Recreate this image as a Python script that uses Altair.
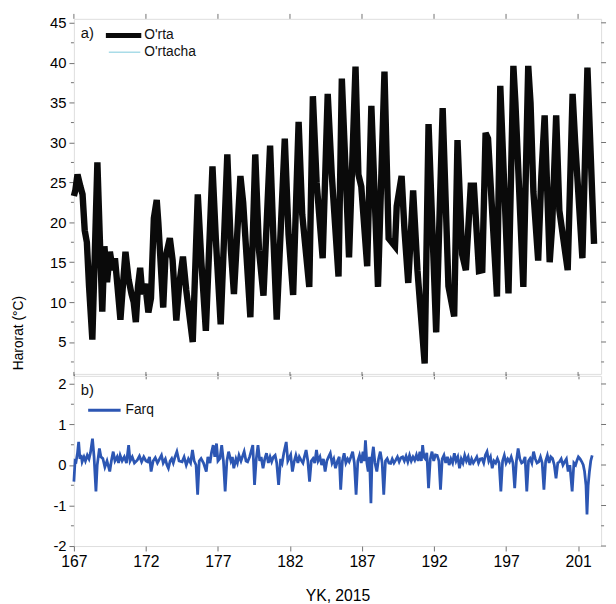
import altair as alt
import pandas as pd

FONT = "Liberation Sans"

# ---------------- data: panel a (temperature) ----------------
days_a = [167.0, 167.1, 167.25, 167.45, 167.6, 167.75, 167.9, 168.05, 168.28, 168.45,
          168.63, 168.8, 168.97, 169.12, 169.3, 169.5, 169.7, 169.85, 170.0, 170.23,
          170.4, 170.58, 170.8, 171.0, 171.15, 171.3, 171.45, 171.6, 171.75, 171.95,
          172.17, 172.35, 172.55, 172.75, 172.86, 173.2, 173.35, 173.66, 173.85, 174.11,
          174.3, 174.57, 174.8, 175.25, 175.6, 175.85, 176.16, 176.62, 176.85, 177.19,
          177.65, 177.9, 178.11, 178.56, 178.75, 179.25, 179.59, 179.85, 180.16, 180.62,
          180.85, 181.08, 181.64, 181.9, 182.22, 182.6, 182.85, 183.34, 183.59, 183.85,
          184.27, 184.62, 184.9, 185.37, 185.6, 185.85, 186.1, 186.55, 186.75, 186.95,
          187.36, 187.65, 188.11, 188.56, 188.85, 189.29, 189.41, 189.75, 189.95, 190.21,
          190.55, 190.85, 191.35, 191.62, 192.15, 192.6, 193.0, 193.4, 193.63, 193.95,
          194.21, 194.55, 194.77, 195.12, 195.35, 195.58, 195.75, 196.37, 196.6, 197.17,
          197.51, 197.65, 198.2, 198.54, 198.7, 198.9, 199.23, 199.45, 199.68, 200.03,
          200.2, 200.48, 200.7, 201.28, 201.62, 201.8, 202.3, 202.65, 203.11]
orta = [23.3, 24.0, 26.0, 24.5, 23.5, 19.0, 17.5, 12.0, 5.3, 16.0,
        27.5, 18.0, 8.8, 17.0, 12.5, 16.3, 14.0, 15.5, 12.5, 7.8,
        12.0, 16.3, 12.8, 11.0, 10.0, 7.5, 12.0, 14.3, 11.0, 12.3,
        8.7, 10.5, 20.5, 22.8, 20.0, 9.3, 15.5, 18.0, 15.3, 7.7,
        12.0, 15.7, 11.5, 5.0, 23.5, 15.0, 6.4, 27.0, 18.0, 7.2,
        28.5, 16.5, 11.0, 25.8, 22.5, 8.1, 28.5, 16.5, 10.8, 29.6,
        18.0, 7.8, 30.5, 18.5, 10.9, 32.6, 21.0, 11.9, 35.8, 25.0,
        15.5, 36.1, 26.0, 13.2, 38.0, 27.0, 15.6, 39.5, 26.0, 24.5,
        14.5, 34.6, 11.9, 38.9, 18.0, 17.0, 22.0, 25.8, 19.0, 12.4,
        24.0, 14.0, 2.3, 32.3, 6.2, 34.3, 12.0, 8.2, 30.3, 16.0,
        14.0, 24.6, 24.6, 13.9, 14.0, 31.2, 30.5, 10.7, 37.1, 11.1,
        39.6, 35.0, 11.9, 39.6, 35.0, 23.8, 15.2, 25.8, 33.4, 15.0,
        19.5, 33.4, 21.5, 14.0, 36.1, 30.0, 15.5, 39.4, 17.3]
# the thin "O'rtacha" curve lies completely under the thick "O'rta" curve
ortacha = list(orta)

# ---------------- data: panel b (difference) ----------------
days_b = [167.0, 167.08, 167.15, 167.25, 167.33, 167.42, 167.5, 167.57, 167.7, 167.8,
          167.93, 168.05, 168.15, 168.29, 168.4, 168.53, 168.62, 168.77, 168.88, 169.01,
          169.15, 169.3, 169.49, 169.6, 169.73, 169.85, 170.0, 170.1, 170.21, 170.35,
          170.5, 170.65, 170.8, 170.9, 171.05, 171.2, 171.4, 171.55, 171.7, 171.85,
          172.0, 172.12, 172.25, 172.36, 172.5, 172.65, 172.8, 172.95, 173.08, 173.2,
          173.35, 173.46, 173.56, 173.68, 173.79, 173.9, 174.02, 174.15, 174.3, 174.51,
          174.65, 174.8, 174.95, 175.1, 175.23, 175.35, 175.48, 175.59, 175.7, 175.83,
          176.0, 176.19, 176.3, 176.45, 176.55, 176.67, 176.78, 176.9, 177.0, 177.14,
          177.26, 177.38, 177.5, 177.62, 177.74, 177.9, 178.0, 178.1, 178.25, 178.35,
          178.46, 178.6, 178.82, 178.95, 179.06, 179.2, 179.42, 179.54, 179.66, 179.78,
          179.9, 180.0, 180.13, 180.25, 180.37, 180.5, 180.62, 180.73, 180.85, 180.97,
          181.08, 181.21, 181.35, 181.46, 181.57, 181.74, 181.85, 181.93, 182.05, 182.17,
          182.3, 182.41, 182.55, 182.65, 182.77, 182.9, 183.0, 183.12, 183.24, 183.36,
          183.48, 183.6, 183.72, 183.84, 183.95, 184.08, 184.2, 184.32, 184.44, 184.56,
          184.68, 184.8, 184.92, 185.04, 185.16, 185.3, 185.42, 185.52, 185.64, 185.76,
          185.88, 186.0, 186.11, 186.23, 186.35, 186.47, 186.59, 186.71, 186.83, 186.95,
          187.07, 187.16, 187.24, 187.34, 187.43, 187.52, 187.62, 187.7, 187.79, 187.9,
          188.03, 188.15, 188.27, 188.4, 188.51, 188.63, 188.75, 188.87, 188.99, 189.1,
          189.22, 189.34, 189.46, 189.58, 189.7, 189.82, 189.94, 190.06, 190.18, 190.3,
          190.42, 190.54, 190.66, 190.78, 190.9, 191.02, 191.12, 191.21, 191.3, 191.38,
          191.5, 191.62, 191.74, 191.86, 191.98, 192.1, 192.22, 192.34, 192.45, 192.57,
          192.69, 192.81, 192.93, 193.05, 193.17, 193.29, 193.41, 193.53, 193.65, 193.77,
          193.89, 194.01, 194.13, 194.25, 194.37, 194.49, 194.61, 194.73, 194.85, 194.97,
          195.09, 195.21, 195.33, 195.45, 195.57, 195.68, 195.8, 195.92, 196.04, 196.16,
          196.28, 196.4, 196.52, 196.64, 196.76, 196.88, 197.0, 197.12, 197.24, 197.36,
          197.48, 197.6, 197.72, 197.84, 197.96, 198.08, 198.2, 198.32, 198.44, 198.56,
          198.67, 198.79, 198.91, 199.03, 199.15, 199.27, 199.39, 199.51, 199.63, 199.75,
          199.87, 199.99, 200.11, 200.23, 200.35, 200.47, 200.59, 200.71, 200.83, 200.95,
          201.07, 201.19, 201.31, 201.43, 201.59, 201.71, 201.83, 201.93, 202.02, 202.14,
          202.26, 202.36, 202.45, 202.55, 202.62, 202.7, 202.79, 202.88, 202.98]
farq = [-0.41, 0.1, 0.08, 0.3, 0.57, 0.15, 0.25, 0.08, 0.2, 0.1,
        0.24, 0.15, 0.3, 0.65, 0.2, -0.65, 0.0, 0.41, 0.2, 0.16,
        -0.05, 0.1, -0.16, 0.1, 0.33, 0.1, 0.2, 0.05, 0.24, 0.1,
        0.2, 0.05, 0.49, 0.1, 0.2, 0.05, 0.12, 0.22, 0.08, 0.2,
        0.1, 0.08, 0.2, -0.16, 0.1, 0.18, 0.05, 0.15, 0.24, 0.05,
        0.15, 0.0, -0.08, 0.1, 0.16, 0.05, 0.2, 0.33, 0.1, 0.08,
        0.2, 0.0, 0.15, 0.05, 0.37, 0.1, 0.0, -0.73, 0.1, 0.16,
        0.05, -0.16, 0.2, 0.05, 0.3, 0.49, 0.2, 0.53, 0.1, 0.16,
        0.49, 0.1, -0.65, 0.1, 0.33, 0.1, 0.2, -0.08, 0.15, 0.05,
        0.24, 0.1, 0.33, 0.1, 0.08, 0.2, 0.49, -0.49, 0.15, 0.49,
        0.1, 0.2, -0.08, 0.15, 0.29, 0.05, 0.2, 0.08, 0.2, 0.24,
        0.05, -0.49, 0.15, 0.05, 0.29, 0.57, 0.1, 0.16, 0.25, -0.16,
        0.1, 0.24, 0.05, 0.2, 0.12, 0.05, 0.2, 0.37, 0.1, -0.41,
        0.1, 0.16, 0.05, 0.37, 0.1, 0.2, 0.0, 0.15, -0.16, 0.1,
        0.2, 0.29, 0.05, 0.15, -0.08, 0.1, 0.2, -0.61, 0.1, 0.29,
        0.05, 0.15, 0.08, 0.2, 0.33, 0.05, -0.73, 0.1, 0.24, 0.05,
        0.33, 0.1, 0.61, 0.05, -0.16, 0.2, -0.94, 0.2, 0.45, 0.05,
        -0.16, 0.15, 0.33, 0.05, -0.73, 0.1, 0.16, 0.05, 0.04, 0.15,
        0.05, 0.12, 0.2, 0.08, 0.18, 0.2, 0.1, 0.22, 0.08, 0.24,
        0.1, 0.2, 0.12, 0.25, 0.1, 0.33, 0.1, 0.49, 0.2, 0.16,
        0.3, -0.57, 0.15, 0.33, 0.1, 0.25, 0.24, 0.1, -0.61, 0.15,
        0.24, 0.05, 0.2, 0.0, 0.15, 0.05, 0.29, 0.1, 0.2, -0.08,
        0.15, 0.05, 0.24, 0.1, 0.2, 0.0, 0.15, 0.05, 0.12, 0.2,
        0.05, 0.15, 0.16, 0.05, 0.25, 0.33, 0.1, 0.2, -0.08, 0.1,
        0.05, 0.16, 0.05, -0.65, 0.1, 0.24, 0.05, 0.15, 0.08, 0.2,
        0.05, -0.57, 0.1, 0.41, 0.15, 0.05, 0.08, 0.2, -0.65, 0.1,
        0.16, 0.05, 0.33, 0.15, 0.05, 0.08, 0.2, 0.05, -0.61, 0.1,
        0.24, 0.05, 0.2, 0.16, 0.0, -0.33, 0.05, 0.08, 0.15, 0.0,
        0.08, 0.15, -0.16, 0.0, -0.65, 0.05, 0.0, 0.12, 0.20, 0.15,
        0.08, 0.0, -0.16, -0.5, -1.22, -0.5, -0.16, 0.1, 0.24]

# ---------------- ticks / labels ----------------
x_ticks = [167, 172, 177, 182, 187, 192, 197, 202]
x_tick_labels = ["167", "172", "177", "182", "187", "192", "197", "201"]
ya_major = [5, 10, 15, 20, 25, 30, 35, 40, 45]
ya_minor = [2.5, 7.5, 12.5, 17.5, 22.5, 27.5, 32.5, 37.5, 42.5]
yb_major = [-2, -1, 0, 1, 2]
yb_minor = [-1.5, -0.5, 0.5, 1.5]
legend_a = ["O'rta", "O'rtacha"]
legend_b = ["Farq"]
panel_tags = ["a)", "b)"]

W = 536
HA = 361
HB = 173
BLACK = "#0a0a0a"
LIGHT = "#a9dce8"
BLUE = "#2c56b3"
TICK = "#707070"
FRAME = "#8c8c8c"

xs = alt.Scale(domain=[167, 203.6], nice=False, zero=False)
ysa = alt.Scale(domain=[1, 45.5], nice=False, zero=False)
ysb = alt.Scale(domain=[-2, 2.2], nice=False, zero=False)

label_expr = ""
for v, l in zip(x_ticks, x_tick_labels):
    label_expr += f"datum.value == {v} ? '{l}' : "
label_expr += "datum.label"

# axes (the same object is given to every layer so they merge cleanly)
ax_xa = alt.Axis(values=x_ticks, labels=False, title=None, tickSize=5,
                 tickColor=TICK, domain=False, grid=False)
ax_ya = alt.Axis(values=ya_major, title="Harorat (°C)", tickSize=5,
                 tickColor=TICK, domain=False, grid=False,
                 labelFontSize=15, labelPadding=3,
                 titleFontSize=14, titleFontWeight="normal",
                 titleX=-56, titleY=319, titleAlign="center",
                 titleBaseline="middle", titleAngle=270)
ax_xb = alt.Axis(values=x_ticks, labelExpr=label_expr, title="YK, 2015",
                 tickSize=5, tickColor=TICK, domain=False, grid=False,
                 labelFontSize=16, labelPadding=3, labelFlush=False,
                 titleFontSize=16, titleFontWeight="normal", titlePadding=18)
ax_yb = alt.Axis(values=yb_major, labelExpr="'' + datum.value", title=None,
                 tickSize=5, tickColor=TICK, domain=False, grid=False,
                 labelFontSize=15, labelPadding=3)

series_a = ["O'rtacha"] * len(days_a) + ["O'rta"] * len(days_a)
df_a = pd.DataFrame({"day": days_a + days_a, "temp": ortacha + orta, "series": series_a})
df_b = pd.DataFrame({"day": days_b, "farq": farq})


def vticks(values, field, scale, axis, side, length):
    """short horizontal rules on the left/right frame at y values"""
    d = pd.DataFrame({field: values})
    x0 = 0 if side == "left" else W
    x1 = -length if side == "left" else W + length
    return alt.Chart(d).mark_rule(color=TICK, strokeWidth=1).encode(
        y=alt.Y(f"{field}:Q", scale=scale, axis=axis),
        x=alt.value(x0), x2=alt.value(x1))


def hticks(values, scale, axis, length):
    """short vertical rules on the top frame at x values"""
    d = pd.DataFrame({"day": values})
    return alt.Chart(d).mark_rule(color=TICK, strokeWidth=1).encode(
        x=alt.X("day:Q", scale=scale, axis=axis),
        y=alt.value(0), y2=alt.value(-length))


def txt(label, x, y, size=14):
    return alt.Chart(pd.DataFrame({"t": [label]})).mark_text(
        align="left", baseline="middle", font=FONT, fontSize=size, color="#111"
    ).encode(x=alt.value(x), y=alt.value(y), text="t:N")


def hline(color, width, x0, x1, y):
    return alt.Chart(pd.DataFrame({"k": [0]})).mark_rule(
        color=color, strokeWidth=width).encode(
        x=alt.value(x0), x2=alt.value(x1), y=alt.value(y))


# ---------- panel a ----------
base_a = alt.Chart(df_a)
a_thin = base_a.transform_filter(alt.datum.series == "O'rtacha").mark_line(
    color=LIGHT, strokeWidth=1.5).encode(
    x=alt.X("day:Q", scale=xs, axis=ax_xa),
    y=alt.Y("temp:Q", scale=ysa, axis=ax_ya))
a_thick = base_a.transform_filter(alt.datum.series == "O'rta").mark_line(
    color=BLACK, strokeWidth=6.5).encode(
    x=alt.X("day:Q", scale=xs, axis=ax_xa),
    y=alt.Y("temp:Q", scale=ysa, axis=ax_ya))

panel_a = alt.layer(
    a_thin, a_thick,
    vticks(ya_minor, "temp", ysa, ax_ya, "left", 3),
    vticks(ya_major, "temp", ysa, ax_ya, "right", 5),
    vticks(ya_minor, "temp", ysa, ax_ya, "right", 3),
    hticks(x_ticks, xs, ax_xa, 5),
    hline(BLACK, 5, 32.5, 68.5, 17),
    hline(LIGHT, 1.5, 35.5, 67.5, 34),
    txt(legend_a[0], 71.5, 16.5),
    txt(legend_a[1], 71.5, 33.5),
    txt(panel_tags[0], 7, 14, 15),
).properties(width=W, height=HA)

# ---------- panel b ----------
b_line = alt.Chart(df_b).mark_line(color=BLUE, strokeWidth=2.8).encode(
    x=alt.X("day:Q", scale=xs, axis=ax_xb),
    y=alt.Y("farq:Q", scale=ysb, axis=ax_yb))

panel_b = alt.layer(
    b_line,
    vticks(yb_minor, "farq", ysb, ax_yb, "left", 3),
    vticks(yb_major, "farq", ysb, ax_yb, "right", 5),
    vticks(yb_minor, "farq", ysb, ax_yb, "right", 3),
    hticks(x_ticks, xs, ax_xb, 4),
    hline(BLUE, 3, 14.5, 47.5, 35),
    txt(legend_b[0], 52.5, 34.5),
    txt(panel_tags[1], 7, 14, 15),
).properties(width=W, height=HB)

chart = alt.vconcat(panel_a, panel_b, spacing=2, bounds="flush").properties(
    padding={"left": 3, "top": 0, "right": 0, "bottom": 0}
).configure_view(
    stroke=FRAME, strokeWidth=1
).configure_axis(
    labelFont=FONT, titleFont=FONT, labelColor="#1a1a1a", titleColor="#1a1a1a"
).configure(background="white")

chart.save("out.html", embed_options={"renderer": "svg", "actions": False})
